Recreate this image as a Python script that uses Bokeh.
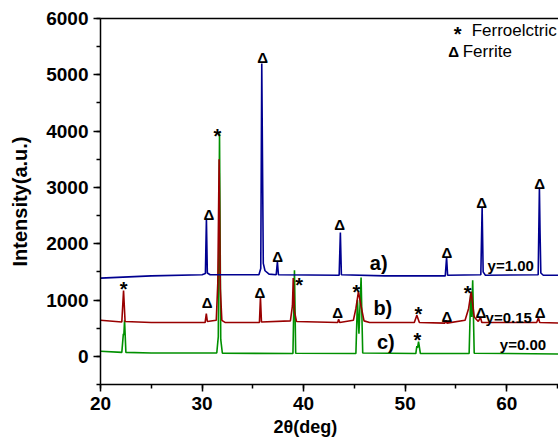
from bokeh.plotting import figure
from bokeh.models import LinearAxis, SingleIntervalTicker, Title
from bokeh.core.properties import value
from bokeh.embed import file_html
from bokeh.resources import INLINE

# ---- data ----
two_theta_a = [20, 25, 30.0, 30.33, 30.43, 30.52, 30.8, 35.6, 35.78, 35.88, 35.96, 36.03, 36.2, 36.6,
               37.3, 37.42, 37.52, 43.5, 43.62, 43.72, 48.0, 53.95, 54.08, 54.18, 57.45, 57.58, 57.68,
               57.9, 63.1, 63.22, 63.28, 63.36, 63.6, 66]
intensity_a = [1390, 1430, 1450, 1470, 2450, 1480, 1450, 1450, 1560, 5200, 3300, 1650, 1520, 1460,
               1450, 1680, 1450, 1440, 2200, 1450, 1430, 1430, 1760, 1440, 1450, 2650, 1500,
               1440, 1450, 3000, 2240, 1480, 1440, 1440]

two_theta_b = [20, 22.1, 22.27, 22.42, 25, 30.3, 30.42, 30.52, 31.4, 31.55, 31.68, 31.8, 31.95, 32.3,
               35.65, 35.75, 35.85, 38.7, 38.9, 38.98, 39.1, 39.3, 43.35, 43.45, 43.55, 44.9, 45.15,
               45.4, 45.65, 45.95, 46.5, 50.9, 51.15, 51.4, 53.9, 54.02, 54.12, 55.9, 56.25, 56.5,
               56.8, 57.2, 57.42, 57.55, 62.95, 63.12, 63.25, 66]
intensity_b = [640, 610, 1170, 620, 600, 600, 760, 620, 640, 1300, 3500, 1200, 640, 600,
               600, 1050, 610, 630, 900, 1390, 800, 620, 600, 660, 600, 640, 850,
               1150, 900, 630, 600, 600, 730, 600, 590, 640, 590, 640, 850, 1150,
               700, 620, 690, 600, 600, 680, 600, 590]

two_theta_c = [20, 22.1, 22.25, 22.3, 22.37, 22.5, 25, 31.45, 31.6, 31.72, 31.84, 32.0, 38.95, 39.1,
               39.22, 45.15, 45.3, 45.45, 45.66, 45.82, 51.05, 51.15, 51.22, 51.32, 51.5, 56.3,
               56.45, 56.55, 56.65, 56.8, 66]
intensity_c = [90, 70, 400, 380, 640, 70, 60, 60, 350, 3960, 300, 55, 50, 1530,
               55, 50, 1000, 400, 1400, 60, 50, 180, 150, 260, 50, 50,
               1100, 700, 1350, 55, 40]

star_x = [22.27, 31.5, 39.55, 45.2, 51.3, 51.2, 56.15]
star_y = [1260, 3980, 1330, 1220, 820, 370, 1200]

tri_x = [30.67, 35.96, 37.44, 43.55, 54.1, 57.54, 63.25, 30.5, 35.7, 43.35, 54.1, 57.45, 63.3]
tri_y = [2520, 5310, 1780, 2340, 1850, 2735, 3070, 960, 1140, 780, 700, 780, 780]

curve_names = ["a)", "b)", "c)"]
curve_name_x = [47.4, 47.8, 48.1]
curve_name_y = [1650, 850, 250]

sample_labels = ["y=1.00", "y=0.15", "y=0.00"]
sample_x = [60.4, 60.2, 61.6]
sample_y = [1620, 690, 210]

legend_labels = ["Ferroelctric", "Ferrite"]
legend_symbols = ["*", "Δ"]
legend_sym_x = [55.17, 54.78]
legend_txt_x = [56.55, 55.67]
legend_y = [5790, 5420]

x_title = "2θ(deg)"
y_title = "Intensity(a.u.)"

x_ticks_step = 10
y_ticks_step = 1000

FONT = "Liberation Sans"

p = figure(width=558, height=443, x_range=(20, 65.1), y_range=(-500, 6000),
           output_backend="svg", toolbar_location=None,
           min_border_left=100, min_border_top=18, min_border_right=0, min_border_bottom=59)
p.outline_line_color = None
p.grid.visible = False
p.background_fill_color = "white"
p.border_fill_color = "white"

xax = p.below[0]
yax = p.left[0]

for ax in (xax, yax):
    ax.axis_line_width = 1.5
    ax.axis_line_color = "black"
    ax.major_tick_line_width = 1.5
    ax.minor_tick_line_width = 1.5
    ax.major_tick_in = 0
    ax.major_tick_out = 7
    ax.minor_tick_in = 0
    ax.minor_tick_out = 4
    ax.major_label_text_font = FONT
    ax.major_label_text_font_style = "bold"
    ax.major_label_text_color = "black"
    ax.axis_label_text_font = FONT
    ax.axis_label_text_font_style = "bold"
    ax.axis_label_text_color = "black"

xax.ticker = SingleIntervalTicker(interval=x_ticks_step, num_minor_ticks=2)
yax.ticker = SingleIntervalTicker(interval=y_ticks_step, num_minor_ticks=2)
xax.major_label_text_font_size = "19px"
yax.major_label_text_font_size = "19px"
yax.axis_label = y_title
yax.axis_label_text_font_size = "20px"
xax.major_label_standoff = 5
yax.major_label_standoff = 5
yax.axis_label_standoff = 12

# x title placed under the 40 tick, as in the original
p.add_layout(Title(text=x_title, align="left", offset=173, standoff=5,
                   text_font=FONT, text_font_style="bold", text_font_size="18px",
                   text_color="black"), "below")

# top frame line
top = LinearAxis(major_tick_line_color=None, minor_tick_line_color=None,
                 major_label_text_font_size="0px", major_label_standoff=0,
                 major_label_text_color=None,
                 axis_line_width=1.5, axis_line_color="black")
top.major_tick_out = 0
top.minor_tick_out = 0
top.major_tick_in = 0
top.minor_tick_in = 0
p.add_layout(top, "above")

p.line(two_theta_c, intensity_c, line_color="#009000", line_width=1.6)
p.line(two_theta_b, intensity_b, line_color="#990000", line_width=1.6)
p.line(two_theta_a, intensity_a, line_color="#000090", line_width=1.6)

p.text(x=star_x, y=star_y, text=["*"] * len(star_x), text_font=value(FONT),
       text_font_style="bold", text_font_size="20px", text_align="center",
       text_baseline="middle", y_offset=4, text_color="black")
p.text(x=tri_x, y=tri_y, text=["Δ"] * len(tri_x), text_font=value(FONT),
       text_font_style="bold", text_font_size="15px", text_align="center",
       text_baseline="middle", text_color="black")
p.text(x=curve_name_x, y=curve_name_y, text=curve_names, text_font=value(FONT),
       text_font_style="bold", text_font_size="20px", text_align="center",
       text_baseline="middle", text_color="black")
p.text(x=sample_x, y=sample_y, text=sample_labels, text_font=value(FONT),
       text_font_style="bold", text_font_size="15px", text_align="center",
       text_baseline="middle", text_color="black")
p.text(x=legend_sym_x, y=legend_y, text=legend_symbols, text_font=value(FONT),
       text_font_style="bold", text_font_size=["20px", "15px"], text_align="center",
       text_baseline="middle", y_offset=[4, 0], text_color="black")
p.text(x=legend_txt_x, y=legend_y, text=legend_labels, text_font=value(FONT),
       text_font_size="17px", text_align="left",
       text_baseline="middle", text_color="black")

open("out.html", "w").write(file_html(p, INLINE))
